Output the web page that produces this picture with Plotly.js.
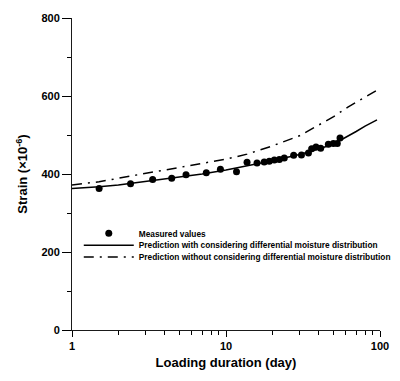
<!DOCTYPE html>
<html>
<head>
<meta charset="utf-8">
<script src="https://cdn.plot.ly/plotly-3.0.1.min.js"></script>
<style>html,body{margin:0;padding:0;background:#fff;overflow:hidden}#chart{width:400px;height:381px}</style>
</head>
<body>
<div id="chart"></div>
<script>
const measuredDays = [1.5, 2.4, 3.34, 4.44, 5.5, 7.45, 9.2, 11.7, 13.7, 15.9, 17.7, 19.1, 20.6, 22.2, 23.9, 27.5, 30.9, 34.3, 36, 38.4, 41.2, 46.2, 49.8, 52.8, 55];
const measuredStrain = [363, 375, 386, 389, 398, 403, 412, 406, 430, 428, 431, 433, 436, 437, 441, 448, 449, 454, 465, 469, 466, 476, 478, 478, 492];

const withDays = [1, 1.5, 2, 3, 5, 7, 10, 15, 20, 30, 40, 50, 60, 70, 80, 95.6];
const withStrain = [363, 367, 372, 381, 391, 400, 410, 424, 434, 450, 464, 477, 494, 509, 523, 539];

const withoutDays = [1, 1.5, 2.5, 4, 5.6, 8, 10, 13.7, 20, 30, 37.3, 50, 61.5, 80, 100];
const withoutStrain = [372, 380, 396, 410, 420, 432, 438, 451, 472, 498, 518, 547, 571, 597, 619];

const seriesNames = [
  "Measured values",
  "Prediction with considering differential moisture distribution",
  "Prediction without considering differential moisture distribution"
];

const yTicks = [0, 200, 400, 600, 800];
const yMinor = [100, 300, 500, 700];
const xTicks = [1, 10, 100];
const xMinor = [2, 3, 4, 5, 6, 7, 8, 9, 20, 30, 40, 50, 60, 70, 80, 90];

const traces = [
  {x: measuredDays, y: measuredStrain, name: seriesNames[0], mode: "markers", type: "scatter",
   marker: {color: "#000", size: 7, symbol: "circle"}, legend: "legend"},
  {x: withDays, y: withStrain, name: seriesNames[1], mode: "lines", type: "scatter",
   line: {color: "#000", width: 1.5, shape: "linear", dash: "solid"}, legend: "legend2"},
  {x: withoutDays, y: withoutStrain, name: seriesNames[2], mode: "lines", type: "scatter",
   line: {color: "#000", width: 1.5, shape: "linear", dash: "10px,6px,2px,6px"}, legend: "legend3"}
];

const legendFont = {size: 8.3, weight: "bold", color: "#000"};
function leg(y) {
  return {x: 0.022, y: y, xanchor: "left", yanchor: "middle", bgcolor: "rgba(0,0,0,0)",
    font: legendFont, itemwidth: 50, borderwidth: 0};
}

const layout = {
  width: 400, height: 381,
  margin: {l: 72, r: 20, t: 18, b: 51, pad: 0, autoexpand: false},
  paper_bgcolor: "#fff", plot_bgcolor: "#fff",
  showlegend: true,
  font: {family: "Arial, Liberation Sans, sans-serif", color: "#000"},
  legend: leg(0.31),
  legend2: leg(0.272),
  legend3: leg(0.234),
  xaxis: {
    type: "log", range: [0, 2],
    tickmode: "array", tickvals: xTicks, ticktext: xTicks.map(String),
    ticks: "outside", ticklen: 6, tickwidth: 1, tickcolor: "#000",
    minor: {tickmode: "array", tickvals: xMinor, ticks: "outside", ticklen: 4, tickwidth: 1, tickcolor: "#000", showgrid: false},
    showline: true, linecolor: "#1a1a1a", showgrid: false, zeroline: false,
    tickfont: {size: 11, weight: "bold"},
    title: {text: "Loading duration (day)", font: {size: 13, weight: "bold"}, standoff: 6}
  },
  yaxis: {
    range: [0, 800],
    tickmode: "array", tickvals: yTicks, ticktext: yTicks.map(String),
    ticks: "outside", ticklen: 9, tickwidth: 1, tickcolor: "#000",
    minor: {tickmode: "array", tickvals: yMinor, ticks: "outside", ticklen: 4, tickwidth: 1, tickcolor: "#000", showgrid: false},
    showline: true, linecolor: "#1a1a1a", showgrid: false, zeroline: false,
    tickfont: {size: 11, weight: "bold"},
    title: {text: "Strain (×10<sup>-6</sup>)", font: {size: 13, weight: "bold"}, standoff: 10}
  }
};

Plotly.newPlot("chart", traces, layout, {staticPlot: true, displayModeBar: false});
</script>
</body>
</html>
